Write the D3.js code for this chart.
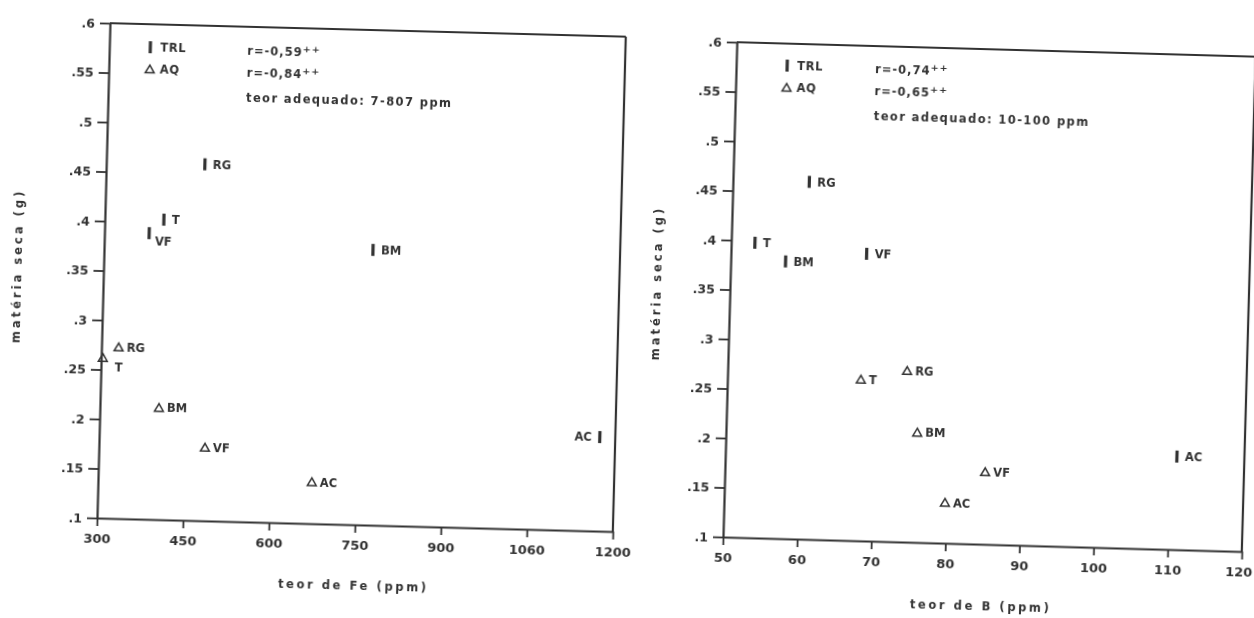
<!DOCTYPE html>
<html>
<head>
<meta charset="utf-8">
<script src="https://cdn.jsdelivr.net/npm/d3@7"></script>
<style>
  body { margin: 0; background: #fff; }
  svg text { font-family: "DejaVu Sans", sans-serif; fill: #333; font-weight: bold; }
</style>
</head>
<body>
<div id="dataviz"></div>
<script>
// ---- data ----
let cultivars = ["RG", "T", "VF", "BM", "AC"];

// left panel: teor de Fe
let feTicks = [300, 450, 600, 750, 900, 1050, 1200];
let feTickLabels = ["300", "450", "600", "750", "900", "1060", "1200"];
let feTRL = [472, 403, 378, 769, 1173];
let msTRLfe = [0.460, 0.403, 0.389, 0.378, 0.195];
let feAQ = [330, 303, 485, 403, 673];
let msAQfe = [0.273, 0.262, 0.174, 0.213, 0.142];

// right panel: teor de B
let bTicks = [50, 60, 70, 80, 90, 100, 110, 120];
let bTickLabels = ["50", "60", "70", "80", "90", "100", "110", "120"];
let bTRL = [60.3, 53.2, 68.3, 57.4, 110.9];
let msTRLb = [0.461, 0.398, 0.390, 0.380, 0.194];
let bAQ = [74.2, 68.0, 85.1, 75.8, 79.8];
let msAQb = [0.273, 0.263, 0.173, 0.211, 0.141];

let yTicks = [0.1, 0.15, 0.2, 0.25, 0.3, 0.35, 0.4, 0.45, 0.5, 0.55, 0.6];
let yTickLabels = [".1", ".15", ".2", ".25", ".3", ".35", ".4", ".45", ".5", ".55", ".6"];

let seriesNames = ["TRL", "AQ"];
let rFe = ["r=-0,59", "r=-0,84"];
let rB = ["r=-0,74", "r=-0,65"];
let teorFe = "teor adequado: 7-807 ppm";
let teorB = "teor adequado: 10-100 ppm";

// ---- layout ----
let ink = "#333";
let svg = d3.select("#dataviz")
    .append("svg")
    .attr("width", 1254)
    .attr("height", 618);

svg.append("defs").append("filter")
    .attr("id", "scan")
    .append("feGaussianBlur")
    .attr("stdDeviation", 0.55);

// label placement tweaks (key: panel-series-cultivar)
let labelPos = {
    "fe-TRL-AC": { dx: -8, dy: 0, anchor: "end" },
    "fe-TRL-VF": { dx: 6, dy: 8, anchor: "start" },
    "fe-AQ-T": { dx: 12, dy: 9, anchor: "start" }
};

function panel(cfg) {
    let W = cfg.width, H = cfg.height;
    let g = svg.append("g")
        .attr("filter", "url(#scan)")
        .attr("transform", "translate(" + cfg.ox + "," + cfg.oy + ") rotate(" + cfg.angle + ") translate(0," + (-H) + ")");

    let x = d3.scaleLinear().domain(cfg.xDomain).range([0, W]);
    let y = d3.scaleLinear().domain([0.1, 0.6]).range([H, 0]);

    let yAxis = g.append("g")
        .call(d3.axisLeft(y)
            .tickValues(yTicks)
            .tickFormat(function (d, i) { return yTickLabels[i]; })
            .tickSize(10).tickSizeOuter(0).tickPadding(5));
    let xAxis = g.append("g")
        .attr("transform", "translate(0," + H + ")")
        .call(d3.axisBottom(x)
            .tickValues(cfg.xTicks)
            .tickFormat(function (d, i) { return cfg.xTickLabels[i]; })
            .tickSize(8).tickSizeOuter(0).tickPadding(8));

    [yAxis, xAxis].forEach(function (a) {
        a.attr("font-family", null).attr("font-size", null);
        a.select(".domain").attr("stroke", ink).attr("stroke-width", 2.2);
        a.selectAll(".tick line").attr("stroke", ink).attr("stroke-width", 1.8);
    });
    yAxis.selectAll(".tick text").style("font-size", "12.5px");
    xAxis.selectAll(".tick text").style("font-size", "13px");
    // keep the last label of the B panel inside the page edge
    if (cfg.key === "b") {
        xAxis.selectAll(".tick:last-of-type text").attr("dx", "-3px");
    }

    // box
    g.append("line").attr("x1", 0).attr("y1", 0).attr("x2", W).attr("y2", 0)
        .attr("stroke", ink).attr("stroke-width", 2.2);
    g.append("line").attr("x1", W).attr("y1", 0).attr("x2", W).attr("y2", H)
        .attr("stroke", ink).attr("stroke-width", 2.2);

    // axis titles
    g.append("text")
        .attr("x", W / 2)
        .attr("y", H + cfg.xTitleY)
        .attr("text-anchor", "middle")
        .style("font-size", "11.5px")
        .style("letter-spacing", "2.6px")
        .text(cfg.xTitle);
    g.append("text")
        .attr("transform", "translate(" + cfg.yTitleX + "," + cfg.yTitleC + ") rotate(-90)")
        .attr("text-anchor", "middle")
        .style("font-size", "11.5px")
        .style("letter-spacing", "3px")
        .text("matéria seca (g)");

    // points
    function drawSeries(xs, ys, name) {
        let pts = cultivars.map(function (c, i) { return { c: c, x: xs[i], y: ys[i] }; });
        let sg = g.append("g");
        pts.forEach(function (d) {
            let px = x(d.x), py = y(d.y);
            marker(sg, name, px, py);
            let lp = labelPos[cfg.key + "-" + name + "-" + d.c] || { dx: 8, dy: 0, anchor: "start" };
            sg.append("text")
                .attr("x", px + lp.dx)
                .attr("y", py + lp.dy)
                .attr("dy", "0.36em")
                .attr("text-anchor", lp.anchor)
                .style("font-size", "11.5px")
                .text(d.c);
        });
    }
    drawSeries(cfg.trlX, cfg.trlY, "TRL");
    drawSeries(cfg.aqX, cfg.aqY, "AQ");

    // legend and r values
    seriesNames.forEach(function (s, i) {
        let ly = cfg.legendY + i * 22;
        marker(g, s, cfg.legendX, ly);
        g.append("text")
            .attr("x", cfg.legendX + 10).attr("y", ly).attr("dy", "0.36em")
            .style("font-size", "11.5px").style("letter-spacing", "0.6px")
            .text(s);
        let t = g.append("text")
            .attr("x", cfg.rX).attr("y", ly + 1).attr("dy", "0.36em")
            .style("font-size", "11.5px").style("letter-spacing", "1px")
            .text(cfg.r[i]);
        t.append("tspan").attr("dy", "-0.45em").style("font-size", "9.5px").text("++");
    });
    g.append("text")
        .attr("x", cfg.rX).attr("y", cfg.legendY + 48).attr("dy", "0.36em")
        .style("font-size", "11.5px").style("letter-spacing", "1.4px")
        .text(cfg.teor);
}

function marker(sel, name, px, py) {
    if (name === "TRL") {
        sel.append("rect")
            .attr("x", px - 1.6).attr("y", py - 6)
            .attr("width", 3.2).attr("height", 12)
            .attr("fill", ink);
    } else {
        sel.append("path")
            .attr("d", d3.symbol(d3.symbolTriangle, 34)())
            .attr("transform", "translate(" + px + "," + (py + 1) + ")")
            .attr("fill", "none")
            .attr("stroke", ink)
            .attr("stroke-width", 1.5);
    }
}

panel({
    key: "fe", ox: 97, oy: 518, width: 516, height: 495, angle: 1.5,
    xDomain: [300, 1200], xTicks: feTicks, xTickLabels: feTickLabels,
    trlX: feTRL, trlY: msTRLfe, aqX: feAQ, aqY: msAQfe,
    xTitle: "teor de Fe (ppm)", xTitleY: 65, yTitleX: -82, yTitleC: 245,
    legendX: 41, legendY: 23, rX: 138, r: rFe, teor: teorFe
});

panel({
    key: "b", ox: 723, oy: 537, width: 519, height: 495, angle: 1.6,
    xDomain: [50, 120], xTicks: bTicks, xTickLabels: bTickLabels,
    trlX: bTRL, trlY: msTRLb, aqX: bAQ, aqY: msAQb,
    xTitle: "teor de B (ppm)", xTitleY: 66, yTitleX: -69, yTitleC: 243,
    legendX: 51, legendY: 22, rX: 139, r: rB, teor: teorB
});
</script>
</body>
</html>
